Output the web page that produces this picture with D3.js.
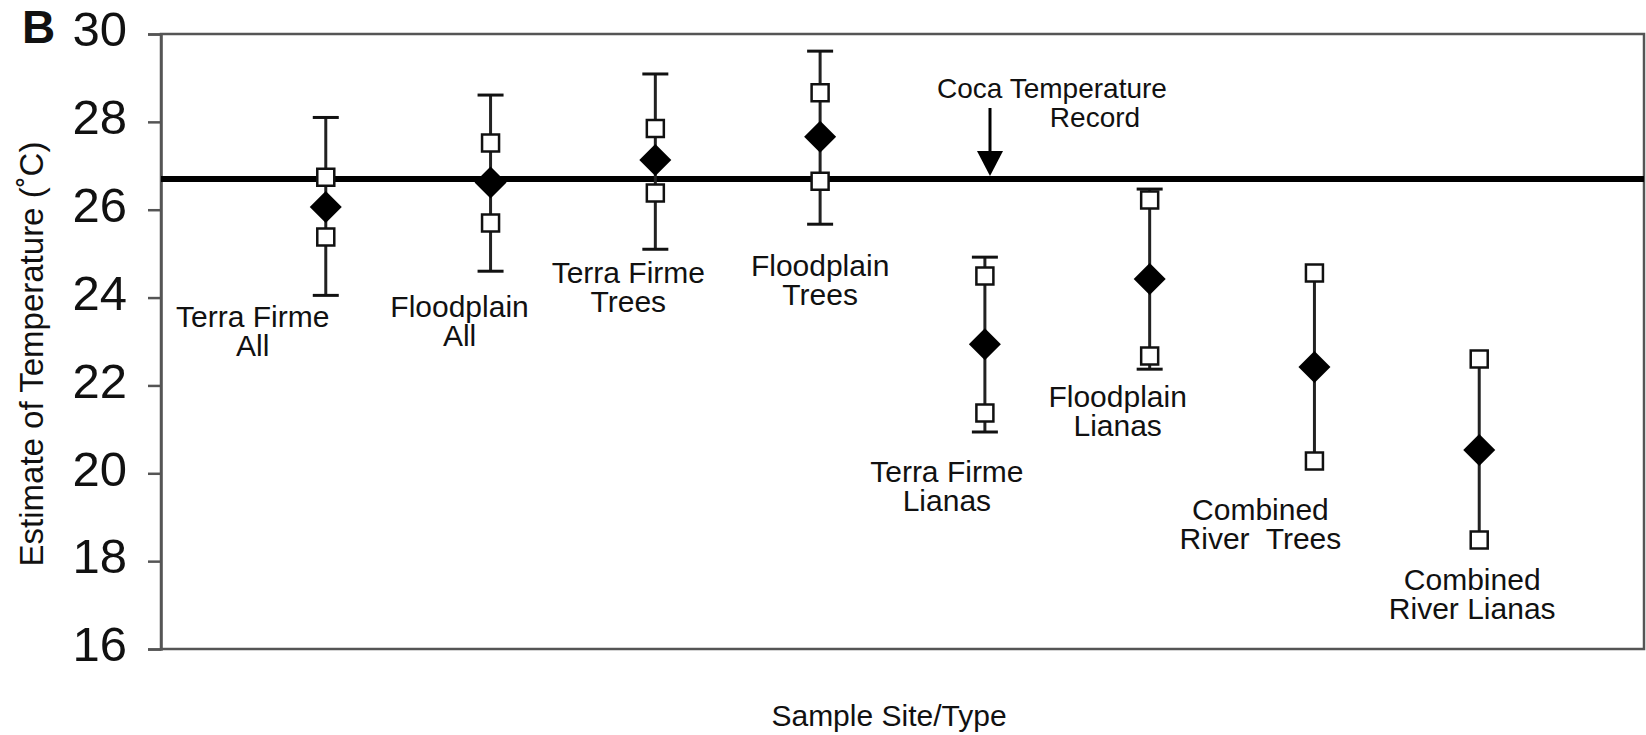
<!DOCTYPE html>
<html>
<head>
<meta charset="utf-8">
<script src="https://cdnjs.cloudflare.com/ajax/libs/d3/7.8.5/d3.min.js"></script>
<style>
  body { margin: 0; background: #fff; }
  text { font-family: Arial, "Liberation Sans", Helvetica, sans-serif; fill: #111; }
  .axis path, .axis line { stroke: #555; }
</style>
</head>
<body>
<script>
// values (deg C)
var sites = [
    ["Terra Firme", "All"],
    ["Floodplain", "All"],
    ["Terra Firme", "Trees"],
    ["Floodplain", "Trees"],
    ["Terra Firme", "Lianas"],
    ["Floodplain", "Lianas"],
    ["Combined", "River  Trees"],
    ["Combined", "River Lianas"]
];
var meanEst  = [26.06, 26.62, 27.13, 27.66, 22.94, 24.42, 22.42, 20.53];
var upperEst = [26.74, 27.52, 27.85, 28.66, 24.49, 26.22, 24.56, 22.60];
var lowerEst = [25.38, 25.70, 26.38, 26.65, 21.37, 22.67, 20.28, 18.48];
var errHigh  = [28.10, 28.61, 29.09, 29.61, 24.92, 26.47, null, null];
var errLow   = [24.05, 24.60, 25.10, 25.67, 20.94, 22.37, null, null];
var cocaRecord = 26.7;
var yTicks = [16, 18, 20, 22, 24, 26, 28, 30];

// where each site label sits (pixel offset from the point, baseline y)
var labelDx = [-73, -31, -27, 0, -38, -32, -54, -7];
var labelY  = [327, 317, 283, 276, 482, 407, 520, 590];

var w = 1646, h = 735;
var plot = { left: 161, right: 1644, top: 34, bottom: 649 };

var svg = d3.select('body').append('svg')
    .attr('width', w)
    .attr('height', h);

// Scales
var xScale = d3.scalePoint()
    .domain(d3.range(sites.length))
    .range([plot.left, plot.right])
    .padding(1);

var yScale = d3.scaleLinear()
    .domain([16, 30])
    .range([plot.bottom, plot.top]);

// frame
svg.append('rect')
    .attr('x', plot.left)
    .attr('y', plot.top)
    .attr('width', plot.right - plot.left)
    .attr('height', plot.bottom - plot.top)
    .attr('fill', 'none')
    .attr('stroke', '#555')
    .attr('stroke-width', 2.5);

// Y-axis
var yAxis = d3.axisLeft(yScale)
    .tickValues(yTicks)
    .tickSize(13)
    .tickPadding(21)
    .tickFormat(d3.format('d'));

var gy = svg.append('g')
    .attr('class', 'axis')
    .attr('transform', 'translate(' + plot.left + ',0)')
    .call(yAxis);
gy.select('.domain').attr('stroke-width', 2.5);
gy.selectAll('line').attr('stroke', '#aaa').attr('stroke-width', 2.5);
gy.selectAll('text')
    .attr('dy', '0.24em')
    .style('font-size', '49px')
    .style('fill', '#111');

// panel letter
svg.append('text')
    .attr('x', 22)
    .attr('y', 43)
    .style('font-size', '46px')
    .style('font-weight', 'bold')
    .text('B');

// axis titles
svg.append('text')
    .attr('transform', 'translate(43,354) rotate(-90)')
    .style('text-anchor', 'middle')
    .style('font-size', '33px')
    .text('Estimate of Temperature (˚C)');

svg.append('text')
    .attr('x', 889)
    .attr('y', 726)
    .style('text-anchor', 'middle')
    .style('font-size', '30px')
    .text('Sample Site/Type');

// Coca temperature record line
svg.append('line')
    .attr('x1', plot.left)
    .attr('x2', plot.right)
    .attr('y1', yScale(cocaRecord))
    .attr('y2', yScale(cocaRecord))
    .attr('stroke', '#000')
    .attr('stroke-width', 6);

// arrow + note
var ax = 990, tipY = yScale(cocaRecord) - 3;
svg.append('line')
    .attr('x1', ax).attr('x2', ax)
    .attr('y1', 108).attr('y2', tipY - 20)
    .attr('stroke', '#000')
    .attr('stroke-width', 3);
svg.append('path')
    .attr('d', 'M' + (ax - 13) + ',' + (tipY - 25) + 'L' + (ax + 13) + ',' + (tipY - 25) + 'L' + ax + ',' + tipY + 'Z')
    .attr('fill', '#000');
svg.append('text')
    .attr('x', 1052).attr('y', 98)
    .style('text-anchor', 'middle')
    .style('font-size', '28px')
    .text('Coca Temperature');
svg.append('text')
    .attr('x', 1095).attr('y', 127)
    .style('text-anchor', 'middle')
    .style('font-size', '28px')
    .text('Record');

// error bars
var idx = d3.range(sites.length);

svg.selectAll('.stem')
    .data(idx)
    .enter()
    .append('line')
    .attr('class', 'stem')
    .attr('x1', function (i) { return xScale(i); })
    .attr('x2', function (i) { return xScale(i); })
    .attr('y1', function (i) { return yScale(errHigh[i] != null ? errHigh[i] : upperEst[i]); })
    .attr('y2', function (i) { return yScale(errLow[i] != null ? errLow[i] : lowerEst[i]); })
    .attr('stroke', '#222')
    .attr('stroke-width', 3);

var caps = [];
idx.forEach(function (i) {
    if (errHigh[i] != null) caps.push({ i: i, v: errHigh[i] });
    if (errLow[i] != null) caps.push({ i: i, v: errLow[i] });
});

svg.selectAll('.cap')
    .data(caps)
    .enter()
    .append('line')
    .attr('class', 'cap')
    .attr('x1', function (d) { return xScale(d.i) - 13; })
    .attr('x2', function (d) { return xScale(d.i) + 13; })
    .attr('y1', function (d) { return yScale(d.v); })
    .attr('y2', function (d) { return yScale(d.v); })
    .attr('stroke', '#111')
    .attr('stroke-width', 3);

// open squares: the two estimates
var squarePath = d3.symbol().type(d3.symbolSquare).size(289);
var sq = [];
idx.forEach(function (i) {
    sq.push({ i: i, v: upperEst[i] });
    sq.push({ i: i, v: lowerEst[i] });
});

svg.selectAll('.est')
    .data(sq)
    .enter()
    .append('path')
    .attr('class', 'est')
    .attr('d', squarePath)
    .attr('transform', function (d) { return 'translate(' + xScale(d.i) + ',' + yScale(d.v) + ')'; })
    .attr('fill', '#fff')
    .attr('stroke', '#111')
    .attr('stroke-width', 2.5);

// filled diamonds: mean
var diamondPath = d3.symbol().type(d3.symbolSquare).size(512);
svg.selectAll('.mean')
    .data(idx)
    .enter()
    .append('path')
    .attr('class', 'mean')
    .attr('d', diamondPath)
    .attr('transform', function (i) { return 'translate(' + xScale(i) + ',' + yScale(meanEst[i]) + ') rotate(45)'; })
    .attr('fill', '#000');

// site labels
var lab = svg.selectAll('.site')
    .data(idx)
    .enter()
    .append('text')
    .attr('class', 'site')
    .style('text-anchor', 'middle')
    .style('font-size', '30px');

lab.selectAll('tspan')
    .data(function (i) { return sites[i].map(function (s, k) { return { i: i, s: s, k: k }; }); })
    .enter()
    .append('tspan')
    .attr('x', function (d) { return xScale(d.i) + labelDx[d.i]; })
    .attr('y', function (d) { return labelY[d.i] + d.k * 29; })
    .style('white-space', 'pre')
    .text(function (d) { return d.s; });
</script>
</body>
</html>
